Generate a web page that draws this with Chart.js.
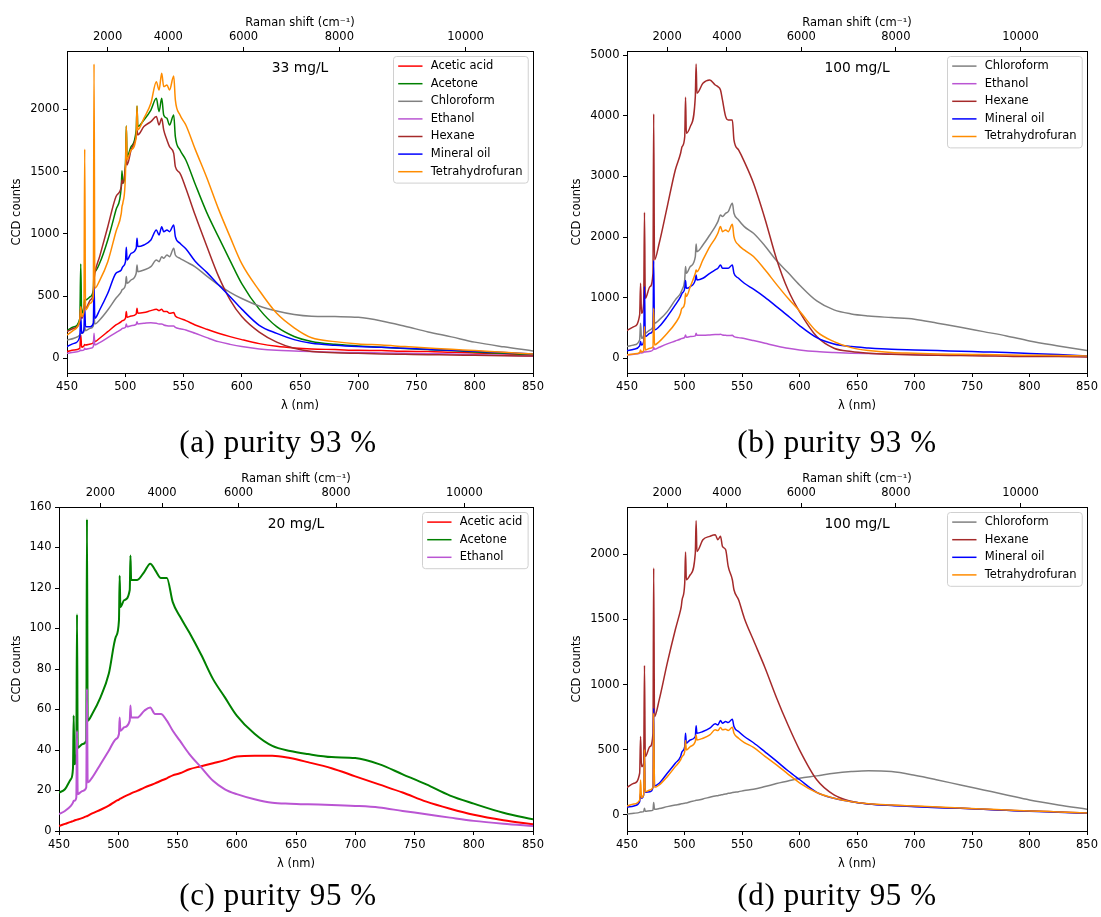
<!DOCTYPE html>
<html><head><meta charset="utf-8">
<script src="https://cdn.jsdelivr.net/npm/chart.js@4.4.1/dist/chart.umd.min.js"></script>
<style>
html,body{margin:0;padding:0;background:#fff;overflow:hidden;width:1101px;height:917px;position:relative;}
canvas{position:absolute;}
.cap{position:absolute;font-family:'Liberation Serif',serif;font-size:31px;line-height:31px;letter-spacing:0.6px;white-space:nowrap;transform:translateX(-50%);color:#000;}
</style></head><body>
<canvas id="ca" width="550" height="420" style="left:0;top:0"></canvas>
<canvas id="cb" width="541" height="420" style="left:560px;top:0"></canvas>
<canvas id="cc" width="550" height="422" style="left:0;top:456px"></canvas>
<canvas id="cd" width="541" height="422" style="left:560px;top:456px"></canvas>
<div class="cap" style="left:278px;top:426px">(a) purity 93 %</div>
<div class="cap" style="left:837px;top:426px">(b) purity 93 %</div>
<div class="cap" style="left:278px;top:879px">(c) purity 95 %</div>
<div class="cap" style="left:837px;top:879px">(d) purity 95 %</div>
<script>
// ---------- data ----------
const EXCITATION_NM = 442;
const xTicks = [450, 500, 550, 600, 650, 700, 750, 800, 850];
const ramanTicks = [2000, 4000, 6000, 8000, 10000];
const yTicksA = [0, 500, 1000, 1500, 2000];
const yTicksB = [0, 1000, 2000, 3000, 4000, 5000];
const yTicksC = [0, 20, 40, 60, 80, 100, 120, 140, 160];
const yTicksD = [0, 500, 1000, 1500, 2000];

// wavelength grid (nm) shared by panels a, b, d
const wl = [450,456,461,461.8,462.6,464.5,465.2,465.9,470,472.6, 473.2,473.9,478,485,492,496.6,497.2,497.9,500.2,500.9, 501.6,505,509.4,510.1,510.8,516,522,526.7,529,531.3, 533,535.8,538,541.6,543,547,552,560,570,580, 590,600,615,630,645,660,680,700,720,740, 760,780,800,825,850];
// wavelength grid (nm) for panel c
const wlC = [450,455,460,461.8,462.4,463,464.6,465.2,465.8,470, 473,473.6,474.2,478,485,492,498,500.6,501.2,501.8, 505,509.7,510.3,510.9,516,522,527,531,536,541, 546,552,560,570,580,590,600,615,630,645, 660,680,700,720,740,760,780,800,825,850];

// (a) purity 93 %, 33 mg/L
const a_acetic = [54,67,80,190,88,99,110,107,115,126, 160,134,161,214,268,294,300,303,321,375, 329,340,356,402,361,367,383,394,383,394, 375,375,361,367,340,321,303,268,233,201, 174,150,118,96,83,75,70,64,62,56, 54,48,43,35,27];
const a_acetone = [222,254,321,758,361,415,470,468,495,549, 690,696,763,950,1191,1379,1507,1405,1566,1866, 1620,1700,1834,2026,1861,1914,1994,2088,1981,2088, 1954,1927,1874,1954,1780,1673,1593,1400,1170,975, 785,600,395,254,175,135,112,99,88,78, 70,62,51,40,29];
const a_chloroform = [147,161,187,201,201,214,254,222,241,260, 335,276,308,388,482,535,549,554,589,656, 602,629,683,750,696,709,736,790,776,816, 803,830,816,883,830,803,776,735,660,590, 530,480,420,380,352,338,335,329,300,258, 212,172,130,92,59];
const a_ethanol = [40,48,59,67,62,67,80,72,80,94, 201,107,126,166,206,233,238,241,249,276, 254,262,273,294,276,281,286,281,276,276, 268,262,260,260,249,238,228,201,166,134, 112,94,75,64,59,54,48,46,43,40, 37,35,29,24,19];
const a_hexane = [214,241,294,415,321,375,442,402,468,522, 629,683,817,1057,1298,1379,1432,1405,1539,1620, 1553,1673,1780,1834,1794,1861,1901,1941,1874,1927, 1834,1753,1700,1646,1539,1486,1365,1150,900,660, 470,335,210,130,80,55,45,40,35,32, 29,27,24,21,19];
const a_mineral = [94,120,174,335,201,228,415,254,254,281, 576,321,388,522,683,709,723,736,776,891, 790,843,883,964,897,910,950,1031,991,1057, 1017,1031,1017,1071,977,924,880,780,690,590, 495,395,265,200,150,120,104,94,88,80, 72,64,56,46,35];
const a_thf = [187,228,308,415,335,375,1679,388,442,495, 2364,562,624,776,1017,1164,1218,1245,1486,1866, 1593,1673,1780,2026,1834,1927,2048,2222,2155,2289, 2182,2195,2155,2267,2075,1954,1874,1680,1450,1200, 975,760,545,361,245,165,134,115,107,94, 83,72,62,48,35];

// (b) purity 93 %, 100 mg/L
const b_chloroform = [193,220,303,578,330,385,468,413,468,523, 798,578,633,770,963,1073,1100,1130,1300,1513, 1403,1513,1678,1887,1760,1870,2035,2173,2255,2365, 2338,2393,2420,2558,2393,2283,2173,2063,1854,1612, 1414,1210,946,798,732,699,671,644,578,512, 440,369,286,204,127];
const b_ethanol = [55,66,83,94,88,99,110,105,116,138, 182,149,182,237,286,319,325,328,347,385, 347,358,369,413,380,380,385,391,391,396, 385,380,374,380,358,341,325,292,248,204, 165,138,110,94,83,77,72,66,61,55, 50,44,39,33,28];
const b_hexane = [457,523,715,1238,743,908,2409,990,1183,1403, 4032,1623,1898,2503,3108,3383,3438,3493,3658,4307, 3713,3823,4318,4857,4373,4538,4593,4510,4483,4428, 4263,3988,3933,3933,3603,3438,3245,2888,2300,1640, 1130,770,358,165,110,83,66,55,50,44, 39,33,28,28,22];
const b_mineral = [127,149,204,275,220,275,1183,358,413,468, 1612,468,523,688,880,1018,1045,1073,1155,1282, 1155,1183,1293,1375,1293,1320,1403,1458,1485,1540, 1485,1485,1485,1540,1403,1320,1238,1140,1005,853, 700,540,341,237,193,171,149,138,127,116, 105,94,77,61,39];
const b_thf = [55,72,94,138,105,127,523,138,165,193, 825,220,275,413,578,743,798,825,908,1073, 1018,1183,1403,1458,1430,1623,1843,1980,2063,2173, 2090,2118,2090,2211,2008,1870,1788,1680,1460,1220, 990,780,440,275,176,127,94,83,72,66, 61,55,50,44,39];

// (c) purity 95 %, 20 mg/L
const c_acetic = [2.5,3.5,4.5,4.9,5,5.2,5.5,5.6,5.7,6.5, 7.2,7.3,7.5,8.7,10.5,12.5,14.8,15.5,15.8,16, 17,18.2,18.4,18.6,19.8,21.4,22.6,23.5,24.8,26, 27.5,28.5,30.5,32,33.5,35,36.8,37.2,37.2,36, 34,31,27,23,19,14.5,11,8,5.3,3.3];
const c_acetone = [19,20.6,25.6,31,57,33,38,107,41,43, 44.6,154,54.5,57.8,66,77.6,96,104,126,110.6, 114,119,136,124,124,128,132,129,125,125, 113,106,98,87,75,66,57,48,42,39.5, 38,36.5,36,33,28,23,17.5,13.5,9,5.8];
const c_ethanol = [8.3,9.9,12.4,14,14.9,14.9,16.5,49.5,18.2,19.8, 21.5,70.2,24,26.4,33,39.6,45.4,47.9,56,49.5, 51.2,54.5,62,56,56,59.4,61,57.8,57.8,54.5, 49.5,44.6,38,31.4,24.8,20.6,18.2,15.7,14,13.5, 13.2,12.9,12.4,11.6,9.9,8.3,6.6,5,3.6,2.5];

// (d) purity 95 %, 100 mg/L
const d_chloroform = [8,13,20,23,23,26,51,28,33,38, 95,44,49,64,77,84,87,87,90,92, 92,102,110,113,113,123,136,146,148,154, 156,161,166,172,174,179,187,197,218,241, 261,282,300,320,333,340,333,305,269,230, 192,154,115,77,44];
const d_hexane = [212,243,320,602,371,397,1147,448,525,627, 1894,755,883,1165,1421,1574,1600,1651,1779,2017, 1805,1843,2010,2258,2022,2112,2138,2150,2112,2138, 2061,2035,1907,1805,1728,1651,1510,1340,1130,900, 690,500,270,154,105,84,74,67,59,51, 44,36,31,23,15];
const d_mineral = [59,69,102,166,128,154,474,175,179,212, 819,223,243,320,397,448,468,486,525,627, 550,576,602,684,627,640,666,699,691,724, 704,717,709,735,678,640,602,554,484,413, 339,272,174,128,102,84,72,64,56,51, 44,36,28,20,13];
const d_thf = [69,84,115,269,133,154,499,179,192,212, 781,212,230,294,371,422,435,448,486,571, 499,525,563,614,576,589,614,653,648,671, 653,658,648,673,627,589,556,518,450,384, 314,247,172,128,102,87,77,69,61,54, 46,38,31,23,15];

// ---------- styling ----------
const COL = {acetic:'#ff0000', acetone:'#008000', chloroform:'#808080', ethanol:'#ba55d3', hexane:'#a52a2a', mineral:'#0000ff', thf:'#ff8c00'};
const FONT = "'DejaVu Sans', sans-serif";
Chart.defaults.font.family = FONT;
Chart.defaults.font.size = 11.5;
Chart.defaults.color = '#000';

function nmFromShift(s){ return 1e7 / (1e7 / EXCITATION_NM - s); }

const decoPlugin = {
  id: 'deco',
  afterDraw(chart, args, opts) {
    const ctx = chart.ctx, ca = chart.chartArea;
    ctx.save();
    ctx.fillStyle = '#000';
    ctx.textAlign = 'center'; ctx.textBaseline = 'middle';
    ctx.font = "13.8px " + FONT;
    ctx.fillText(opts.title, (ca.left + ca.right) / 2, ca.top + 17.5);
    ctx.font = "11.5px " + FONT;
    const ds = chart.data.datasets;
    let maxW = 0;
    ds.forEach(d => { maxW = Math.max(maxW, ctx.measureText(d.label).width); });
    const rowH = 17.6, padL = 4.7, handle = 24.3, gap = 8.3, padR = 5.7;
    const w = padL + handle + gap + maxW + padR;
    const h = 9.6 + (ds.length - 1) * rowH + 11.4;
    const x0 = Math.round(ca.right - 5.7 - w) + 0.5, y0 = Math.round(ca.top + 4.7) + 0.5;
    ctx.beginPath();
    if (ctx.roundRect) ctx.roundRect(x0, y0, w, h, 3); else ctx.rect(x0, y0, w, h);
    ctx.fillStyle = 'rgba(255,255,255,0.8)'; ctx.fill();
    ctx.strokeStyle = '#d0d0d0'; ctx.lineWidth = 1; ctx.stroke();
    ds.forEach((d, i) => {
      const cy = y0 + 9.6 + i * rowH;
      ctx.strokeStyle = d.borderColor; ctx.lineWidth = 1.5;
      ctx.beginPath(); ctx.moveTo(x0 + padL, cy); ctx.lineTo(x0 + padL + handle, cy); ctx.stroke();
      ctx.fillStyle = '#000'; ctx.textAlign = 'left'; ctx.textBaseline = 'middle';
      ctx.fillText(d.label, x0 + padL + handle + gap, cy);
    });
    ctx.restore();
  }
};

function makeChart(id, xs, series, cfg) {
  const n = series.length;
  const datasets = series.map((s, i) => ({
    label: s.label,
    data: xs.map((x, j) => ({x: x, y: s.values[j]})),
    borderColor: s.color, backgroundColor: s.color,
    borderWidth: cfg.lw, pointRadius: 0, fill: false,
    cubicInterpolationMode: 'monotone',
    order: n - i
  }));
  const tickGrid = {drawOnChartArea: false, drawTicks: true, tickLength: 4, color: '#000', lineWidth: 1};
  const border = {display: true, color: '#000', width: 1};
  return new Chart(document.getElementById(id), {
    type: 'line',
    data: {datasets},
    options: {
      responsive: false, animation: false, devicePixelRatio: 1,
      layout: {padding: 0},
      plugins: {legend: {display: false}, tooltip: {enabled: false}, deco: {title: cfg.title}},
      scales: {
        x: {
          type: 'linear', position: 'bottom', min: 450, max: 850,
          afterBuildTicks: s => { s.ticks = xTicks.map(v => ({value: v})); },
          ticks: {autoSkip: false, maxRotation: 0, padding: 3, color: '#000', callback: v => String(v)},
          grid: tickGrid, border: border,
          title: {display: true, text: 'λ (nm)', color: '#000', padding: {top: 0, bottom: 6.6}},
          afterFit: s => { s.height = 47; }
        },
        x2: {
          type: 'linear', position: 'top', min: 450, max: 850,
          afterBuildTicks: s => { s.ticks = ramanTicks.map(r => ({value: nmFromShift(r)})); },
          ticks: {autoSkip: false, maxRotation: 0, padding: 3, color: '#000',
                  callback: (v, i) => String(ramanTicks[i])},
          grid: tickGrid, border: border,
          title: {display: true, text: 'Raman shift (cm⁻¹)', color: '#000', padding: {top: 16, bottom: 0}},
          afterFit: s => { s.height = 51; }
        },
        y: {
          type: 'linear', position: 'left', min: cfg.ymin, max: cfg.ymax,
          afterBuildTicks: s => { s.ticks = cfg.yTicks.map(v => ({value: v})); },
          ticks: {autoSkip: false, padding: 3.5, color: '#000', callback: v => String(v)},
          grid: tickGrid, border: border,
          title: {display: true, text: 'CCD counts', color: '#000', padding: {top: 10.1, bottom: 0}},
          afterFit: s => { s.width = cfg.yW; }
        },
        y2: {
          type: 'linear', position: 'right', min: 0, max: 1,
          ticks: {display: false}, grid: {display: false}, border: border,
          afterFit: s => { s.width = cfg.rW; }
        }
      }
    },
    plugins: [decoPlugin]
  });
}

makeChart('ca', wl, [
  {label: 'Acetic acid', values: a_acetic, color: COL.acetic},
  {label: 'Acetone', values: a_acetone, color: COL.acetone},
  {label: 'Chloroform', values: a_chloroform, color: COL.chloroform},
  {label: 'Ethanol', values: a_ethanol, color: COL.ethanol},
  {label: 'Hexane', values: a_hexane, color: COL.hexane},
  {label: 'Mineral oil', values: a_mineral, color: COL.mineral},
  {label: 'Tetrahydrofuran', values: a_thf, color: COL.thf}
], {title: '33 mg/L', ymin: -118, ymax: 2468, yTicks: yTicksA, yW: 67, rW: 17, lw: 1.5});

makeChart('cb', wl, [
  {label: 'Chloroform', values: b_chloroform, color: COL.chloroform},
  {label: 'Ethanol', values: b_ethanol, color: COL.ethanol},
  {label: 'Hexane', values: b_hexane, color: COL.hexane},
  {label: 'Mineral oil', values: b_mineral, color: COL.mineral},
  {label: 'Tetrahydrofuran', values: b_thf, color: COL.thf}
], {title: '100 mg/L', ymin: -243, ymax: 5071, yTicks: yTicksB, yW: 67, rW: 9, lw: 1.5});

makeChart('cc', wlC, [
  {label: 'Acetic acid', values: c_acetic, color: COL.acetic},
  {label: 'Acetone', values: c_acetone, color: COL.acetone},
  {label: 'Ethanol', values: c_ethanol, color: COL.ethanol}
], {title: '20 mg/L', ymin: 0, ymax: 160, yTicks: yTicksC, yW: 59, rW: 17, lw: 2});

makeChart('cd', wl, [
  {label: 'Chloroform', values: d_chloroform, color: COL.chloroform},
  {label: 'Hexane', values: d_hexane, color: COL.hexane},
  {label: 'Mineral oil', values: d_mineral, color: COL.mineral},
  {label: 'Tetrahydrofuran', values: d_thf, color: COL.thf}
], {title: '100 mg/L', ymin: -123, ymax: 2363, yTicks: yTicksD, yW: 67, rW: 9, lw: 1.5});
</script>
</body></html>
